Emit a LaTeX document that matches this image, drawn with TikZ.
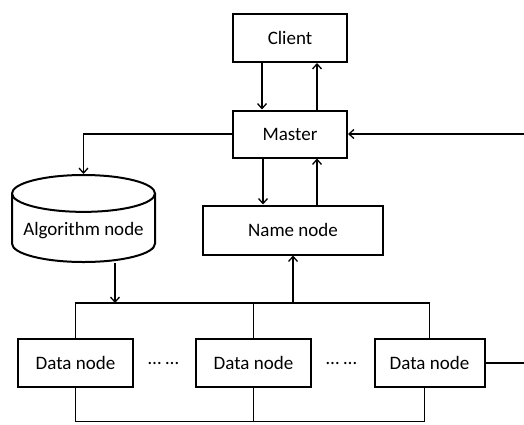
\documentclass[tikz,border=0pt]{standalone}
\usepackage{fontspec}
\setmainfont{Carlito}
\usepackage{tikz}
\usetikzlibrary{arrows.meta,shapes.geometric}
\tikzstyle{box} = [rectangle, minimum width=114pt, minimum height=48pt, text centered, draw=black, line width=2pt, font=\fontsize{19}{22}\selectfont]
\tikzstyle{store} = [cylinder, shape border rotate=90, aspect=0.29, minimum width=143pt, minimum height=87pt, text centered, draw=black, line width=2pt, font=\fontsize{19}{22}\selectfont]
\tikzstyle{dots} = [font=\fontsize{19}{22}\selectfont]
\tikzstyle{line} = [line width=1.3pt]
\tikzstyle{arrow} = [line width=1.3pt,-{Straight Barb[length=5pt,width=9pt]}]

\begin{document}
\begin{tikzpicture}[x=1pt,y=1pt,node distance=96pt]
\useasboundingbox (0,0) rectangle (524,424);

\node (client) [box] at (290,386) {Client};
\node (master) [box, below of=client, minimum height=47pt] {Master};
\draw [arrow] ([xshift=-28pt]client.south) -- ([xshift=-28pt]master.north);
\draw [arrow] ([xshift=27pt]master.north) -- ([xshift=27pt]client.south);

\node (name) [box, below of=master, xshift=3pt, minimum width=180pt, minimum height=49pt] {Name node};
\draw [arrow] ([xshift=-27pt]master.south) -- ([xshift=-27pt]master.south |- name.north);
\draw [arrow] ([xshift=27pt]master.south |- name.north) -- ([xshift=27pt]master.south);

\node (alg) [store, left of=name, xshift=-113.5pt, yshift=-1pt] {Algorithm node};
\draw [arrow] (master.west) -| (alg.north);

% data nodes
\node (dn1) [box, minimum width=115pt] at (75.5,61) {Data node};
\node (dots1) [dots, right of=dn1, node distance=88pt] {… …};
\node (dn2) [box, right of=dots1, node distance=90pt, minimum width=115pt] {Data node};
\node (dots2) [dots, right of=dn2, node distance=88pt] {… …};
\node (dn3) [box, right of=dots2, node distance=88pt, minimum width=110pt] {Data node};

\coordinate (bus) at (0,121);
\coordinate (busb) at (0,2.5);
\draw [line] (dn1.north) -- (dn1.north |- bus) -- (dn3.north |- bus) -- (dn3.north);
\draw [line] (dn2.north) -- (dn2.north |- bus);
\draw [arrow] (name.south |- bus) -- (name.south);
\draw [arrow] ([xshift=31.5pt]alg.south) -- ([xshift=31.5pt]alg.south |- bus);

\draw [line] (dn1.south) -- (dn1.south |- busb) -- ([xshift=-5pt]dn3.south |- busb) -- ([xshift=-5pt]dn3.south);
\draw [line] (dn2.south) -- (dn2.south |- busb);

\coordinate (rtop) at (524,0);
\draw [arrow] (master.east -| rtop) -- (master.east);
\draw [line] (dn3.east) -- (dn3.east -| rtop);

\end{tikzpicture}
\end{document}
